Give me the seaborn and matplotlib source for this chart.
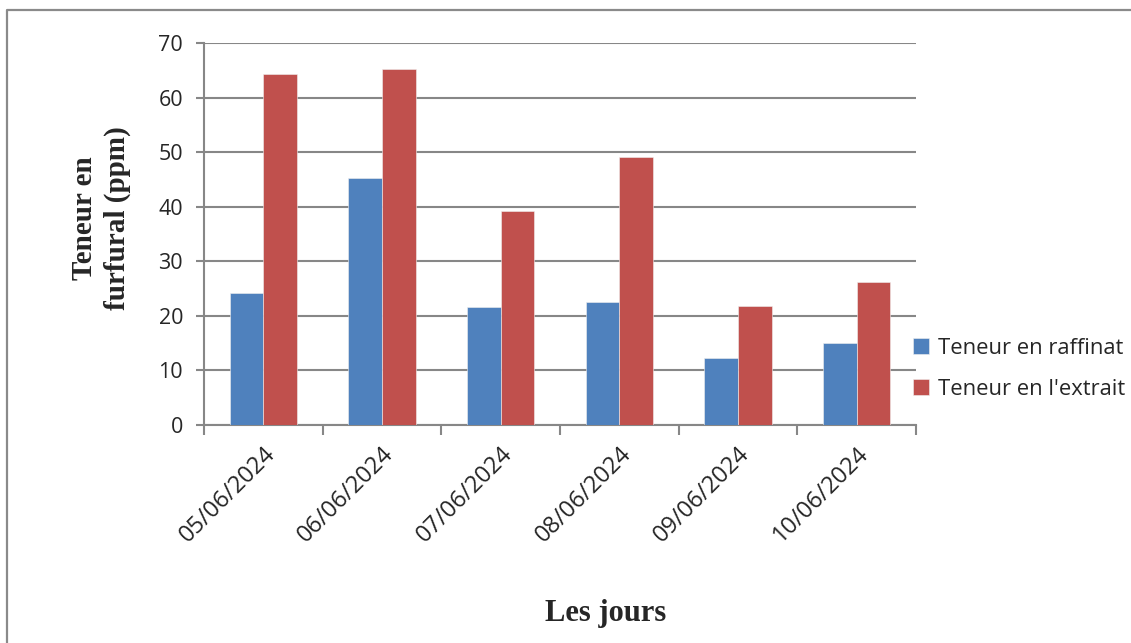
import matplotlib
matplotlib.use("Agg")
import matplotlib.pyplot as plt
from matplotlib.lines import Line2D
from matplotlib.ticker import FixedLocator
import seaborn as sns
import pandas as pd

dates = ["05/06/2024", "06/06/2024", "07/06/2024", "08/06/2024", "09/06/2024", "10/06/2024"]
raffinat = [24.1, 45.3, 21.6, 22.5, 12.3, 15.0]
extrait = [64.4, 65.2, 39.3, 49.2, 21.8, 26.2]
series = ["Teneur en raffinat", "Teneur en l'extrait"]
colors = ["#4F81BD", "#C0504D"]
yticks = [0, 10, 20, 30, 40, 50, 60, 70]

df = pd.DataFrame({
    "jour": dates * 2,
    "valeur": raffinat + extrait,
    "serie": [series[0]] * len(dates) + [series[1]] * len(dates),
})

sns.set_style("white")
plt.rcParams["font.family"] = ["Open Sans", "DejaVu Sans"]

W, H = 1131, 643
fig = plt.figure(figsize=(W / 100, H / 100), dpi=100)
ax = fig.add_axes([204 / W, 1 - 425 / H, (916 - 204) / W, (425 - 43) / H])

sns.barplot(data=df, x="jour", y="valeur", hue="serie", palette=colors,
            width=0.57, saturation=1, ax=ax, edgecolor="#f0f0f0", linewidth=0.4,
            legend=True, zorder=3)

grid_col = "#878787"
ax.set_ylim(0, 70)
ax.set_xlim(-0.5, len(dates) - 0.5)
ax.set_yticks(yticks)
ax.yaxis.grid(True, color=grid_col, linewidth=1.5, zorder=0)
ax.set_axisbelow(True)
for side in ["top", "right"]:
    ax.spines[side].set_visible(False)
for side in ["left", "bottom"]:
    ax.spines[side].set_color(grid_col)
    ax.spines[side].set_linewidth(1.5)

ax.tick_params(axis="y", which="major", length=6, width=1.5, color=grid_col,
               labelsize=15.5, pad=9, direction="out", left=True)
ax.tick_params(axis="x", which="major", length=0, labelsize=17, pad=12)
ax.xaxis.set_minor_locator(FixedLocator([i - 0.5 for i in range(len(dates) + 1)]))
ax.tick_params(axis="x", which="minor", length=7, width=1.5, color=grid_col,
               direction="out", bottom=True)
for lab in ax.get_xticklabels():
    lab.set_rotation(45)
    lab.set_ha("right")
    lab.set_rotation_mode("anchor")

ax.set_xlabel("")
ax.set_ylabel("")
serif = ["Liberation Serif", "DejaVu Serif"]
fig.text(101 / W, 1 - 218 / H, "Teneur en\nfurfural (ppm)", rotation=90, ha="center",
         va="center", fontsize=21, fontweight="bold", family=serif, linespacing=1.3)
fig.text(606 / W, 1 - 614 / H, "Les jours", ha="center", va="center",
         fontsize=22, fontweight="bold", family=serif)

handles, labels = ax.get_legend_handles_labels()
ax.legend_.remove()
fig.legend(handles, labels, loc="upper left", bbox_to_anchor=(904 / W, 1 - 329 / H),
           frameon=False, fontsize=15.8, handlelength=0.75, handleheight=0.75,
           handletextpad=0.4, labelspacing=0.9, borderaxespad=0)

frame_col = "#8a8a8a"
fig.add_artist(Line2D([7 / W, 7 / W, 1.0], [0.0, 1 - 10 / H, 1 - 10 / H],
                      transform=fig.transFigure, color=frame_col, linewidth=1.6))

fig.savefig("out.png", dpi=100)
